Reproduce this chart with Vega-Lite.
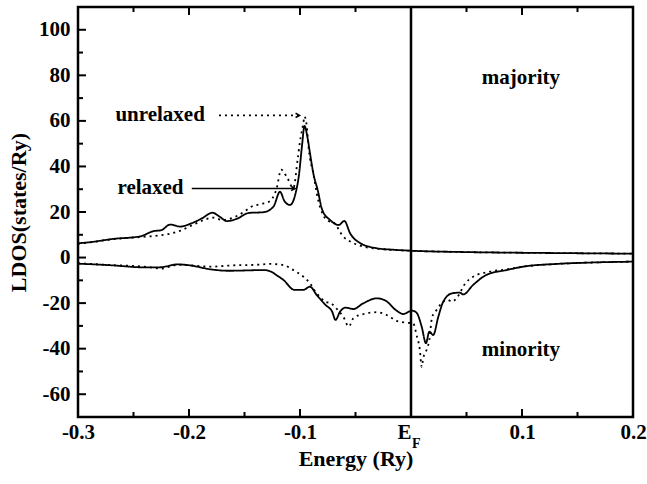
{
  "$schema": "https://vega.github.io/schema/vega-lite/v6.json",
  "width": 555,
  "height": 410,
  "autosize": {"type": "none"},
  "padding": {"left": 78, "top": 7, "right": 14, "bottom": 67},
  "background": "white",
  "config": {
    "view": {"stroke": "black", "strokeWidth": 2.5},
    "axis": {
      "domain": false, "grid": false, "ticks": false,
      "labelFont": "Liberation Serif", "labelFontWeight": "bold", "labelFontSize": 21, "labelColor": "black",
      "titleFont": "Liberation Serif", "titleFontWeight": "bold", "titleFontSize": 22, "titleColor": "black"
    }
  },
  "datasets": {
    "dos": [
      {"E": -0.300, "v": 6.3, "spin": "maj", "type": "relaxed"},
      {"E": -0.292, "v": 6.6, "spin": "maj", "type": "relaxed"},
      {"E": -0.268, "v": 8.2, "spin": "maj", "type": "relaxed"},
      {"E": -0.244, "v": 9.3, "spin": "maj", "type": "relaxed"},
      {"E": -0.232, "v": 11.6, "spin": "maj", "type": "relaxed"},
      {"E": -0.225, "v": 12.0, "spin": "maj", "type": "relaxed"},
      {"E": -0.217, "v": 14.5, "spin": "maj", "type": "relaxed"},
      {"E": -0.208, "v": 13.6, "spin": "maj", "type": "relaxed"},
      {"E": -0.198, "v": 15.0, "spin": "maj", "type": "relaxed"},
      {"E": -0.188, "v": 17.3, "spin": "maj", "type": "relaxed"},
      {"E": -0.179, "v": 19.7, "spin": "maj", "type": "relaxed"},
      {"E": -0.172, "v": 17.8, "spin": "maj", "type": "relaxed"},
      {"E": -0.166, "v": 16.0, "spin": "maj", "type": "relaxed"},
      {"E": -0.157, "v": 17.0, "spin": "maj", "type": "relaxed"},
      {"E": -0.146, "v": 19.6, "spin": "maj", "type": "relaxed"},
      {"E": -0.133, "v": 19.9, "spin": "maj", "type": "relaxed"},
      {"E": -0.124, "v": 22.3, "spin": "maj", "type": "relaxed"},
      {"E": -0.118, "v": 28.9, "spin": "maj", "type": "relaxed"},
      {"E": -0.114, "v": 24.8, "spin": "maj", "type": "relaxed"},
      {"E": -0.109, "v": 23.1, "spin": "maj", "type": "relaxed"},
      {"E": -0.104, "v": 28.2, "spin": "maj", "type": "relaxed"},
      {"E": -0.101, "v": 36.0, "spin": "maj", "type": "relaxed"},
      {"E": -0.098, "v": 50.0, "spin": "maj", "type": "relaxed"},
      {"E": -0.096, "v": 57.8, "spin": "maj", "type": "relaxed"},
      {"E": -0.093, "v": 52.0, "spin": "maj", "type": "relaxed"},
      {"E": -0.091, "v": 45.8, "spin": "maj", "type": "relaxed"},
      {"E": -0.088, "v": 37.0, "spin": "maj", "type": "relaxed"},
      {"E": -0.084, "v": 29.5, "spin": "maj", "type": "relaxed"},
      {"E": -0.080, "v": 21.0, "spin": "maj", "type": "relaxed"},
      {"E": -0.073, "v": 16.5, "spin": "maj", "type": "relaxed"},
      {"E": -0.065, "v": 14.3, "spin": "maj", "type": "relaxed"},
      {"E": -0.060, "v": 16.1, "spin": "maj", "type": "relaxed"},
      {"E": -0.055, "v": 10.8, "spin": "maj", "type": "relaxed"},
      {"E": -0.046, "v": 6.4, "spin": "maj", "type": "relaxed"},
      {"E": -0.031, "v": 4.1, "spin": "maj", "type": "relaxed"},
      {"E": -0.015, "v": 3.4, "spin": "maj", "type": "relaxed"},
      {"E": 0.000, "v": 3.0, "spin": "maj", "type": "relaxed"},
      {"E": 0.050, "v": 2.4, "spin": "maj", "type": "relaxed"},
      {"E": 0.100, "v": 2.1, "spin": "maj", "type": "relaxed"},
      {"E": 0.150, "v": 1.9, "spin": "maj", "type": "relaxed"},
      {"E": 0.200, "v": 1.7, "spin": "maj", "type": "relaxed"},

      {"E": -0.300, "v": 6.0, "spin": "maj", "type": "unrelaxed"},
      {"E": -0.290, "v": 6.6, "spin": "maj", "type": "unrelaxed"},
      {"E": -0.270, "v": 8.0, "spin": "maj", "type": "unrelaxed"},
      {"E": -0.250, "v": 8.8, "spin": "maj", "type": "unrelaxed"},
      {"E": -0.238, "v": 9.2, "spin": "maj", "type": "unrelaxed"},
      {"E": -0.225, "v": 9.8, "spin": "maj", "type": "unrelaxed"},
      {"E": -0.210, "v": 11.4, "spin": "maj", "type": "unrelaxed"},
      {"E": -0.195, "v": 14.7, "spin": "maj", "type": "unrelaxed"},
      {"E": -0.185, "v": 16.8, "spin": "maj", "type": "unrelaxed"},
      {"E": -0.178, "v": 17.5, "spin": "maj", "type": "unrelaxed"},
      {"E": -0.170, "v": 16.5, "spin": "maj", "type": "unrelaxed"},
      {"E": -0.165, "v": 16.8, "spin": "maj", "type": "unrelaxed"},
      {"E": -0.150, "v": 20.2, "spin": "maj", "type": "unrelaxed"},
      {"E": -0.145, "v": 22.0, "spin": "maj", "type": "unrelaxed"},
      {"E": -0.135, "v": 23.5, "spin": "maj", "type": "unrelaxed"},
      {"E": -0.128, "v": 24.5, "spin": "maj", "type": "unrelaxed"},
      {"E": -0.121, "v": 30.4, "spin": "maj", "type": "unrelaxed"},
      {"E": -0.117, "v": 38.6, "spin": "maj", "type": "unrelaxed"},
      {"E": -0.112, "v": 35.5, "spin": "maj", "type": "unrelaxed"},
      {"E": -0.106, "v": 30.5, "spin": "maj", "type": "unrelaxed"},
      {"E": -0.102, "v": 43.6, "spin": "maj", "type": "unrelaxed"},
      {"E": -0.100, "v": 51.0, "spin": "maj", "type": "unrelaxed"},
      {"E": -0.097, "v": 59.0, "spin": "maj", "type": "unrelaxed"},
      {"E": -0.096, "v": 62.0, "spin": "maj", "type": "unrelaxed"},
      {"E": -0.094, "v": 58.0, "spin": "maj", "type": "unrelaxed"},
      {"E": -0.092, "v": 47.0, "spin": "maj", "type": "unrelaxed"},
      {"E": -0.088, "v": 37.0, "spin": "maj", "type": "unrelaxed"},
      {"E": -0.084, "v": 26.0, "spin": "maj", "type": "unrelaxed"},
      {"E": -0.079, "v": 18.5, "spin": "maj", "type": "unrelaxed"},
      {"E": -0.074, "v": 16.0, "spin": "maj", "type": "unrelaxed"},
      {"E": -0.070, "v": 15.5, "spin": "maj", "type": "unrelaxed"},
      {"E": -0.061, "v": 9.2, "spin": "maj", "type": "unrelaxed"},
      {"E": -0.052, "v": 6.4, "spin": "maj", "type": "unrelaxed"},
      {"E": -0.040, "v": 4.5, "spin": "maj", "type": "unrelaxed"},
      {"E": -0.029, "v": 3.8, "spin": "maj", "type": "unrelaxed"},
      {"E": -0.015, "v": 3.3, "spin": "maj", "type": "unrelaxed"},
      {"E": 0.000, "v": 3.0, "spin": "maj", "type": "unrelaxed"},
      {"E": 0.050, "v": 2.4, "spin": "maj", "type": "unrelaxed"},
      {"E": 0.100, "v": 2.1, "spin": "maj", "type": "unrelaxed"},
      {"E": 0.150, "v": 1.9, "spin": "maj", "type": "unrelaxed"},
      {"E": 0.200, "v": 1.7, "spin": "maj", "type": "unrelaxed"},

      {"E": -0.300, "v": -2.7, "spin": "min", "type": "relaxed"},
      {"E": -0.294, "v": -2.8, "spin": "min", "type": "relaxed"},
      {"E": -0.270, "v": -3.4, "spin": "min", "type": "relaxed"},
      {"E": -0.240, "v": -4.3, "spin": "min", "type": "relaxed"},
      {"E": -0.227, "v": -4.3, "spin": "min", "type": "relaxed"},
      {"E": -0.210, "v": -3.0, "spin": "min", "type": "relaxed"},
      {"E": -0.201, "v": -3.3, "spin": "min", "type": "relaxed"},
      {"E": -0.180, "v": -5.2, "spin": "min", "type": "relaxed"},
      {"E": -0.165, "v": -5.8, "spin": "min", "type": "relaxed"},
      {"E": -0.132, "v": -5.5, "spin": "min", "type": "relaxed"},
      {"E": -0.127, "v": -6.0, "spin": "min", "type": "relaxed"},
      {"E": -0.120, "v": -8.1, "spin": "min", "type": "relaxed"},
      {"E": -0.115, "v": -9.8, "spin": "min", "type": "relaxed"},
      {"E": -0.105, "v": -14.2, "spin": "min", "type": "relaxed"},
      {"E": -0.097, "v": -14.2, "spin": "min", "type": "relaxed"},
      {"E": -0.091, "v": -12.8, "spin": "min", "type": "relaxed"},
      {"E": -0.085, "v": -16.4, "spin": "min", "type": "relaxed"},
      {"E": -0.077, "v": -20.8, "spin": "min", "type": "relaxed"},
      {"E": -0.071, "v": -23.8, "spin": "min", "type": "relaxed"},
      {"E": -0.068, "v": -27.4, "spin": "min", "type": "relaxed"},
      {"E": -0.064, "v": -23.8, "spin": "min", "type": "relaxed"},
      {"E": -0.059, "v": -22.0, "spin": "min", "type": "relaxed"},
      {"E": -0.052, "v": -22.6, "spin": "min", "type": "relaxed"},
      {"E": -0.043, "v": -20.1, "spin": "min", "type": "relaxed"},
      {"E": -0.031, "v": -17.9, "spin": "min", "type": "relaxed"},
      {"E": -0.023, "v": -18.9, "spin": "min", "type": "relaxed"},
      {"E": -0.013, "v": -23.3, "spin": "min", "type": "relaxed"},
      {"E": -0.007, "v": -24.8, "spin": "min", "type": "relaxed"},
      {"E": 0.001, "v": -23.3, "spin": "min", "type": "relaxed"},
      {"E": 0.005, "v": -24.2, "spin": "min", "type": "relaxed"},
      {"E": 0.0096, "v": -30.3, "spin": "min", "type": "relaxed"},
      {"E": 0.0135, "v": -37.6, "spin": "min", "type": "relaxed"},
      {"E": 0.0165, "v": -32.5, "spin": "min", "type": "relaxed"},
      {"E": 0.020, "v": -34.0, "spin": "min", "type": "relaxed"},
      {"E": 0.0246, "v": -26.0, "spin": "min", "type": "relaxed"},
      {"E": 0.029, "v": -19.4, "spin": "min", "type": "relaxed"},
      {"E": 0.037, "v": -15.7, "spin": "min", "type": "relaxed"},
      {"E": 0.044, "v": -15.4, "spin": "min", "type": "relaxed"},
      {"E": 0.047, "v": -16.2, "spin": "min", "type": "relaxed"},
      {"E": 0.056, "v": -12.0, "spin": "min", "type": "relaxed"},
      {"E": 0.068, "v": -7.6, "spin": "min", "type": "relaxed"},
      {"E": 0.086, "v": -5.5, "spin": "min", "type": "relaxed"},
      {"E": 0.101, "v": -4.0, "spin": "min", "type": "relaxed"},
      {"E": 0.131, "v": -2.8, "spin": "min", "type": "relaxed"},
      {"E": 0.161, "v": -2.2, "spin": "min", "type": "relaxed"},
      {"E": 0.200, "v": -1.8, "spin": "min", "type": "relaxed"},

      {"E": -0.300, "v": -2.5, "spin": "min", "type": "unrelaxed"},
      {"E": -0.270, "v": -3.3, "spin": "min", "type": "unrelaxed"},
      {"E": -0.240, "v": -4.0, "spin": "min", "type": "unrelaxed"},
      {"E": -0.225, "v": -4.8, "spin": "min", "type": "unrelaxed"},
      {"E": -0.210, "v": -3.2, "spin": "min", "type": "unrelaxed"},
      {"E": -0.180, "v": -4.0, "spin": "min", "type": "unrelaxed"},
      {"E": -0.160, "v": -3.4, "spin": "min", "type": "unrelaxed"},
      {"E": -0.140, "v": -3.2, "spin": "min", "type": "unrelaxed"},
      {"E": -0.127, "v": -2.8, "spin": "min", "type": "unrelaxed"},
      {"E": -0.115, "v": -3.3, "spin": "min", "type": "unrelaxed"},
      {"E": -0.106, "v": -5.5, "spin": "min", "type": "unrelaxed"},
      {"E": -0.097, "v": -8.4, "spin": "min", "type": "unrelaxed"},
      {"E": -0.091, "v": -11.3, "spin": "min", "type": "unrelaxed"},
      {"E": -0.086, "v": -15.0, "spin": "min", "type": "unrelaxed"},
      {"E": -0.077, "v": -19.4, "spin": "min", "type": "unrelaxed"},
      {"E": -0.072, "v": -20.1, "spin": "min", "type": "unrelaxed"},
      {"E": -0.066, "v": -23.0, "spin": "min", "type": "unrelaxed"},
      {"E": -0.061, "v": -26.0, "spin": "min", "type": "unrelaxed"},
      {"E": -0.056, "v": -30.3, "spin": "min", "type": "unrelaxed"},
      {"E": -0.052, "v": -26.7, "spin": "min", "type": "unrelaxed"},
      {"E": -0.043, "v": -24.8, "spin": "min", "type": "unrelaxed"},
      {"E": -0.031, "v": -24.0, "spin": "min", "type": "unrelaxed"},
      {"E": -0.022, "v": -25.2, "spin": "min", "type": "unrelaxed"},
      {"E": -0.013, "v": -27.8, "spin": "min", "type": "unrelaxed"},
      {"E": -0.004, "v": -28.6, "spin": "min", "type": "unrelaxed"},
      {"E": 0.002, "v": -28.9, "spin": "min", "type": "unrelaxed"},
      {"E": 0.005, "v": -34.0, "spin": "min", "type": "unrelaxed"},
      {"E": 0.008, "v": -40.6, "spin": "min", "type": "unrelaxed"},
      {"E": 0.0096, "v": -48.0, "spin": "min", "type": "unrelaxed"},
      {"E": 0.011, "v": -44.2, "spin": "min", "type": "unrelaxed"},
      {"E": 0.014, "v": -40.6, "spin": "min", "type": "unrelaxed"},
      {"E": 0.0165, "v": -36.2, "spin": "min", "type": "unrelaxed"},
      {"E": 0.019, "v": -26.2, "spin": "min", "type": "unrelaxed"},
      {"E": 0.023, "v": -23.0, "spin": "min", "type": "unrelaxed"},
      {"E": 0.029, "v": -19.4, "spin": "min", "type": "unrelaxed"},
      {"E": 0.033, "v": -18.6, "spin": "min", "type": "unrelaxed"},
      {"E": 0.037, "v": -19.4, "spin": "min", "type": "unrelaxed"},
      {"E": 0.041, "v": -17.9, "spin": "min", "type": "unrelaxed"},
      {"E": 0.049, "v": -11.3, "spin": "min", "type": "unrelaxed"},
      {"E": 0.056, "v": -8.4, "spin": "min", "type": "unrelaxed"},
      {"E": 0.071, "v": -6.2, "spin": "min", "type": "unrelaxed"},
      {"E": 0.086, "v": -5.2, "spin": "min", "type": "unrelaxed"},
      {"E": 0.101, "v": -4.0, "spin": "min", "type": "unrelaxed"},
      {"E": 0.131, "v": -2.8, "spin": "min", "type": "unrelaxed"},
      {"E": 0.161, "v": -2.2, "spin": "min", "type": "unrelaxed"},
      {"E": 0.200, "v": -1.8, "spin": "min", "type": "unrelaxed"}
    ],
    "labels": [
      {"E": -0.226, "v": 62.6, "text": "unrelaxed"},
      {"E": -0.2347, "v": 30.4, "text": "relaxed"},
      {"E": 0.099, "v": 78.8, "text": "majority"},
      {"E": 0.099, "v": -40.6, "text": "minority"}
    ],
    "arrows": [
      {"E": -0.173, "E2": -0.1005, "v": 62.4, "type": "unrelaxed"},
      {"E": -0.1975, "E2": -0.1045, "v": 30.3, "type": "relaxed"}
    ],
    "sub": [
      {"E": 0.0, "v": -70, "t": "F"}
    ],
    "ef": [
      {"E": 0.0}
    ],
    "ticks": [
      {"E": -0.25, "v": -70, "kind": "minor", "edge": "bottom"},
      {"E": -0.2, "v": -70, "kind": "major", "edge": "bottom"},
      {"E": -0.15, "v": -70, "kind": "minor", "edge": "bottom"},
      {"E": -0.1, "v": -70, "kind": "major", "edge": "bottom"},
      {"E": -0.05, "v": -70, "kind": "minor", "edge": "bottom"},
      {"E": 0.05, "v": -70, "kind": "minor", "edge": "bottom"},
      {"E": 0.1, "v": -70, "kind": "major", "edge": "bottom"},
      {"E": 0.15, "v": -70, "kind": "minor", "edge": "bottom"},
      {"E": -0.25, "v": 110, "kind": "minor", "edge": "top"},
      {"E": -0.2, "v": 110, "kind": "major", "edge": "top"},
      {"E": -0.15, "v": 110, "kind": "minor", "edge": "top"},
      {"E": -0.1, "v": 110, "kind": "major", "edge": "top"},
      {"E": -0.05, "v": 110, "kind": "minor", "edge": "top"},
      {"E": 0.05, "v": 110, "kind": "minor", "edge": "top"},
      {"E": 0.1, "v": 110, "kind": "major", "edge": "top"},
      {"E": 0.15, "v": 110, "kind": "minor", "edge": "top"},
      {"E": -0.3, "v": -60, "kind": "major", "edge": "left"},
      {"E": -0.3, "v": -50, "kind": "minor", "edge": "left"},
      {"E": -0.3, "v": -40, "kind": "major", "edge": "left"},
      {"E": -0.3, "v": -30, "kind": "minor", "edge": "left"},
      {"E": -0.3, "v": -20, "kind": "major", "edge": "left"},
      {"E": -0.3, "v": -10, "kind": "minor", "edge": "left"},
      {"E": -0.3, "v": 0, "kind": "major", "edge": "left"},
      {"E": -0.3, "v": 10, "kind": "minor", "edge": "left"},
      {"E": -0.3, "v": 20, "kind": "major", "edge": "left"},
      {"E": -0.3, "v": 30, "kind": "minor", "edge": "left"},
      {"E": -0.3, "v": 40, "kind": "major", "edge": "left"},
      {"E": -0.3, "v": 50, "kind": "minor", "edge": "left"},
      {"E": -0.3, "v": 60, "kind": "major", "edge": "left"},
      {"E": -0.3, "v": 70, "kind": "minor", "edge": "left"},
      {"E": -0.3, "v": 80, "kind": "major", "edge": "left"},
      {"E": -0.3, "v": 90, "kind": "minor", "edge": "left"},
      {"E": -0.3, "v": 100, "kind": "major", "edge": "left"}
    ]
  },
  "layer": [
    {
      "data": {"name": "dos"},
      "mark": {"type": "line", "color": "black", "strokeWidth": 1.8, "clip": true, "interpolate": "monotone"},
      "encoding": {
        "x": {
          "field": "E", "type": "quantitative",
          "scale": {"domain": [-0.3, 0.2], "nice": false, "zero": false},
          "axis": {
            "orient": "bottom",
            "values": [-0.3, -0.2, -0.1, 0, 0.1, 0.2],
            "labelPadding": 4,
            "labelFlush": false,
            "labelOverlap": false,
            "labelAlign": {"condition": {"test": "datum.value == 0", "value": "right"}, "value": "center"},
            "labelExpr": "datum.value == 0 ? 'E' : (datum.value < 0 ? '-' : '') + format(abs(datum.value), '.1f')",
            "title": "Energy (Ry)",
            "titlePadding": 6
          }
        },
        "y": {
          "field": "v", "type": "quantitative",
          "scale": {"domain": [-70, 110], "nice": false, "zero": false},
          "axis": {
            "orient": "left",
            "values": [-60, -40, -20, 0, 20, 40, 60, 80, 100],
            "labelPadding": 8,
            "labelExpr": "(datum.value < 0 ? '-' : '') + abs(datum.value)",
            "title": "LDOS(states/Ry)",
            "titlePadding": 8
          }
        },
        "detail": {"field": "spin"},
        "strokeDash": {
          "field": "type", "type": "nominal",
          "scale": {"domain": ["relaxed", "unrelaxed"], "range": [[1, 0], [2, 4]]},
          "legend": null
        }
      }
    },
    {
      "data": {"name": "ticks"},
      "transform": [{"filter": "datum.kind == 'major'"}],
      "mark": {"type": "point", "filled": false, "color": "black", "strokeWidth": 2, "size": 256, "opacity": 1},
      "encoding": {
        "x": {"field": "E", "type": "quantitative"},
        "y": {"field": "v", "type": "quantitative"},
        "shape": {
          "field": "edge", "type": "nominal",
          "scale": {"domain": ["bottom", "top", "left"], "range": ["M 0 0 L 0 -1", "M 0 0 L 0 1", "M 0 0 L 1 0"]},
          "legend": null
        }
      }
    },
    {
      "data": {"name": "ticks"},
      "transform": [{"filter": "datum.kind == 'minor'"}],
      "mark": {"type": "point", "filled": false, "color": "black", "strokeWidth": 2, "size": 100, "opacity": 1},
      "encoding": {
        "x": {"field": "E", "type": "quantitative"},
        "y": {"field": "v", "type": "quantitative"},
        "shape": {
          "field": "edge", "type": "nominal",
          "scale": {"domain": ["bottom", "top", "left"], "range": ["M 0 0 L 0 -1", "M 0 0 L 0 1", "M 0 0 L 1 0"]},
          "legend": null
        }
      }
    },
    {
      "data": {"name": "ef"},
      "mark": {"type": "rule", "color": "black", "strokeWidth": 2.5},
      "encoding": {
        "x": {"field": "E", "type": "quantitative"}
      }
    },
    {
      "data": {"name": "labels"},
      "mark": {"type": "text", "font": "Liberation Serif", "fontWeight": "bold", "fontSize": 21, "color": "black", "align": "center", "baseline": "middle"},
      "encoding": {
        "x": {"field": "E", "type": "quantitative"},
        "y": {"field": "v", "type": "quantitative"},
        "text": {"field": "text"}
      }
    },
    {
      "data": {"name": "arrows"},
      "mark": {"type": "rule", "color": "black", "strokeWidth": 1.6},
      "encoding": {
        "x": {"field": "E", "type": "quantitative"},
        "x2": {"field": "E2"},
        "y": {"field": "v", "type": "quantitative"},
        "strokeDash": {
          "field": "type", "type": "nominal",
          "scale": {"domain": ["relaxed", "unrelaxed"], "range": [[1, 0], [2, 2]]},
          "legend": null
        }
      }
    },
    {
      "data": {"name": "arrows"},
      "mark": {"type": "point", "shape": "M -1 -0.55 L 0 0 L -1 0.55", "filled": false, "color": "black", "strokeWidth": 1.6, "size": 60, "opacity": 1},
      "encoding": {
        "x": {"field": "E2", "type": "quantitative"},
        "y": {"field": "v", "type": "quantitative"}
      }
    },
    {
      "data": {"name": "sub"},
      "mark": {"type": "text", "font": "Liberation Serif", "fontWeight": "bold", "fontSize": 14, "color": "black", "align": "left", "baseline": "top", "dx": 1, "dy": 20},
      "encoding": {
        "x": {"field": "E", "type": "quantitative"},
        "y": {"field": "v", "type": "quantitative"},
        "text": {"field": "t"}
      }
    }
  ]
}
